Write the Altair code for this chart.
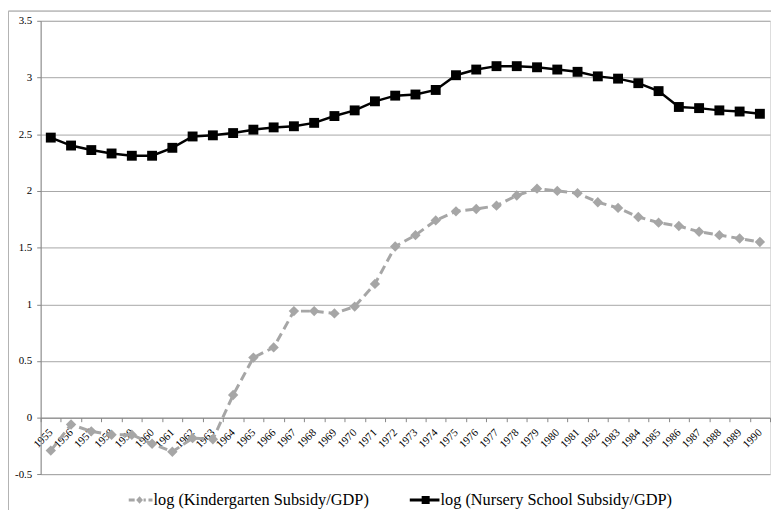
import altair as alt
import pandas as pd

years = [str(y) for y in range(1955, 1991)]
kinder = [-0.29, -0.06, -0.12, -0.15, -0.15, -0.23, -0.30, -0.18, -0.19, 0.20,
          0.53, 0.62, 0.94, 0.94, 0.92, 0.98, 1.18, 1.51, 1.61, 1.74,
          1.82, 1.84, 1.87, 1.96, 2.02, 2.00, 1.98, 1.90, 1.85, 1.77,
          1.72, 1.69, 1.64, 1.61, 1.58, 1.55]
nursery = [2.47, 2.40, 2.36, 2.33, 2.31, 2.31, 2.38, 2.48, 2.49, 2.51,
           2.54, 2.56, 2.57, 2.60, 2.66, 2.71, 2.79, 2.84, 2.85, 2.89,
           3.02, 3.07, 3.10, 3.10, 3.09, 3.07, 3.05, 3.01, 2.99, 2.95,
           2.88, 2.74, 2.73, 2.71, 2.70, 2.68]
series = ["log (Kindergarten Subsidy/GDP)", "log (Nursery School Subsidy/GDP)"]
y_ticks = [-0.5, 0, 0.5, 1, 1.5, 2, 2.5, 3, 3.5]

df = pd.DataFrame({
    "year": years * 2,
    "value": kinder + nursery,
    "series": [series[0]] * len(years) + [series[1]] * len(years),
})
legend_df = pd.DataFrame({"year": [years[0]] * 2, "series": series})

GRAY = "#a6a6a6"
AXIS = "#868686"
FONT = "Liberation Serif"

W, H = 737, 458.4

x_enc = alt.X("year:O", title=None,
              scale=alt.Scale(type="band", paddingInner=0, paddingOuter=0, domain=years),
              axis=alt.Axis(labelAngle=-45, labelAlign="right", labelBaseline="middle",
                            labelFontSize=11, labelPadding=9, tickSize=4, tickBand="extent",
                            tickColor=AXIS, domainColor=AXIS, grid=False,
                            offset=-H * 0.5 / 4.0, labelColor="#000000", labelFont=FONT))
y_enc = alt.Y("value:Q", title=None,
              scale=alt.Scale(domain=[-0.5, 3.5], nice=False, zero=False),
              axis=alt.Axis(values=y_ticks, labelExpr="datum.value + ''", grid=True,
                            gridColor=GRAY, domainColor=AXIS, tickColor=AXIS, tickSize=4,
                            labelPadding=5, labelFontSize=11, labelColor="#000000",
                            labelFont=FONT))

base = alt.Chart(df).encode(x=x_enc, y=y_enc)

k_line = base.transform_filter(alt.datum.series == series[0]).mark_line(
    color=GRAY, strokeWidth=3, strokeDash=[9, 5])
k_pts = base.transform_filter(alt.datum.series == series[0]).mark_point(
    shape="diamond", filled=True, size=110, color=GRAY, opacity=1)
n_line = base.transform_filter(alt.datum.series == series[1]).mark_line(
    color="#000000", strokeWidth=2.5)
n_pts = base.transform_filter(alt.datum.series == series[1]).mark_point(
    shape="square", filled=True, size=100, color="#000000", opacity=1)

K_PATH = ("M-0.6,-0.1L-0.2,-0.1L-0.2,0.1L-0.6,0.1Z "
          "M0.13,-0.25L0.36,0L0.13,0.25L-0.1,0Z "
          "M0.4,-0.1L0.55,-0.1L0.55,0.1L0.4,0.1Z "
          "M0.73,-0.1L1,-0.1L1,0.1L0.73,0.1Z")
N_PATH = ("M-1,-0.1L1,-0.1L1,0.1L-1,0.1Z "
          "M-0.2,-0.27L0.34,-0.27L0.34,0.27L-0.2,0.27Z")

legend = alt.Legend(title=None, orient="none", direction="horizontal",
                    legendX=83, legendY=469, symbolSize=900, symbolStrokeWidth=0,
                    labelFont=FONT, labelFontSize=16.5, labelColor="#000000",
                    labelOffset=1, columnPadding=41, padding=0, labelLimit=0)

legend_layer = alt.Chart(legend_df).mark_point(filled=True, clip=True, opacity=1).encode(
    x=alt.X("year:O"),
    y=alt.datum(-10),
    color=alt.Color("series:N", scale=alt.Scale(domain=series, range=[GRAY, "#000000"]),
                    legend=legend),
    shape=alt.Shape("series:N", scale=alt.Scale(domain=series, range=[K_PATH, N_PATH]),
                    legend=legend),
)

frame = alt.Chart(legend_df).mark_rect(filled=False, stroke="#b4b4b4", strokeWidth=1).encode(
    x=alt.value(-32.5), x2=alt.value(W + 60), y=alt.value(-9.8), y2=alt.value(H + 80))

chart = alt.layer(frame, k_line, k_pts, n_line, n_pts, legend_layer).properties(
    width=W, height=H,
    autosize=alt.AutoSizeParams(type="none"),
    padding={"left": 33, "top": 10.3, "right": 1, "bottom": 33},
).configure_view(strokeWidth=0).configure(font=FONT)

chart.save("out.html", embed_options={"renderer": "svg", "actions": False})
